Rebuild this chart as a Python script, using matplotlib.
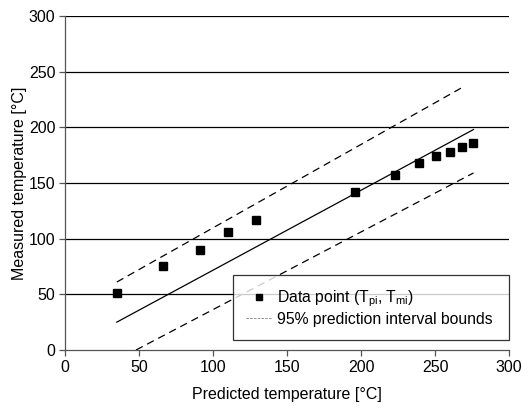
import matplotlib
matplotlib.use("Agg")
import matplotlib.pyplot as plt
from matplotlib.lines import Line2D

plt.rcParams["font.family"] = ["Liberation Sans", "DejaVu Sans"]

# data
pred_temp = [35, 66, 91, 110, 129, 196, 223, 239, 251, 260, 268, 276]
meas_temp = [51, 75, 90, 106, 117, 142, 157, 168, 174, 178, 182, 186]

fit_x = [35, 276]
fit_y = [25, 198]
upper_x = [35, 270]
upper_y = [61, 237]
lower_x = [48, 276]
lower_y = [0, 159]

x_ticks = [0, 50, 100, 150, 200, 250, 300]
y_ticks = [0, 50, 100, 150, 200, 250, 300]

fig = plt.figure(figsize=(5.31, 4.09), dpi=100)
ax = fig.add_axes([0.1224, 0.1443, 0.8362, 0.8167])

for y in y_ticks[1:]:
    ax.axhline(y, color="black", lw=0.9, zorder=0)

ax.plot(fit_x, fit_y, color="black", lw=0.9)
ax.plot(upper_x, upper_y, color="black", lw=0.9, dashes=(6, 4))
ax.plot(lower_x, lower_y, color="black", lw=0.9, dashes=(6, 4))
ax.plot(pred_temp, meas_temp, "s", color="black", ms=6.3, zorder=3)

ax.set_xlim(0, 300)
ax.set_ylim(0, 300)
ax.set_xticks(x_ticks)
ax.set_yticks(y_ticks)
ax.tick_params(labelsize=11.5, length=4, color="#555555", width=0.9, pad=3)
for s in ["top", "right"]:
    ax.spines[s].set_visible(False)
for s in ["left", "bottom"]:
    ax.spines[s].set_color("#555555")
    ax.spines[s].set_linewidth(0.9)

ax.set_xlabel("Predicted temperature [°C]", fontsize=11.5, labelpad=9)
ax.set_ylabel("Measured temperature [°C]", fontsize=11.5, labelpad=1)

handles = [
    Line2D([], [], marker="s", color="black", ls="none", ms=5),
    Line2D([], [], color="gray", lw=0.6, dashes=(3, 1.5)),
]
labels = [
    r"Data point (T$_{\mathregular{pi}}$, T$_{\mathregular{mi}}$)",
    "95% prediction interval bounds",
]
leg = ax.legend(handles, labels, loc="lower left", bbox_to_anchor=(0.378, 0.03, 0.622, 0.192),
                mode="expand", fontsize=11.3, frameon=True, fancybox=False,
                handlelength=1.6, handletextpad=0.35, borderpad=0.85, labelspacing=0.15,
                borderaxespad=0)
leg.get_frame().set_edgecolor("black")
leg.get_frame().set_linewidth(0.9)

fig.savefig("out.png", dpi=100)
